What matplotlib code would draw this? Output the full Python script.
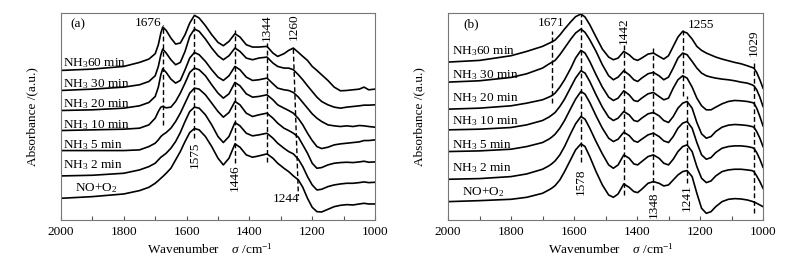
import matplotlib.pyplot as plt

plt.rcParams['font.family'] = 'Liberation Serif'
plt.rcParams['mathtext.fontset'] = 'custom'
plt.rcParams['mathtext.rm'] = 'Liberation Serif'
plt.rcParams['mathtext.it'] = 'Liberation Serif:italic'
plt.rcParams['font.size'] = 9.5

# ---------------- panel (a) : wavenumber grid and stacked spectra (a.u.) ----------------
wn_a = [2000, 1900, 1800, 1750, 1720, 1700, 1690, 1682, 1676, 1665,
        1650, 1635, 1620, 1605, 1590, 1575, 1560, 1540, 1520, 1500,
        1483, 1465, 1446, 1430, 1410, 1390, 1370, 1344, 1325, 1310,
        1290, 1275, 1260, 1244, 1230, 1215, 1200, 1185, 1170, 1150,
        1130, 1110, 1090, 1070, 1050, 1035, 1020, 1000]

a_nh3_60 = [448, 452, 460, 472, 482, 498, 525, 560, 578, 568,
            545, 527, 530, 555, 590, 613, 605, 582, 555, 532,
            522, 535, 558, 548, 525, 518, 518, 520, 500, 490,
            498, 508, 515, 502, 490, 478, 460, 448, 435, 418,
            398, 387, 388, 390, 392, 398, 390, 392]
a_nh3_30 = [388, 392, 398, 405, 415, 432, 460, 495, 512, 500,
            480, 465, 472, 505, 550, 572, 565, 542, 515, 492,
            480, 492, 515, 505, 485, 480, 485, 488, 470, 460,
            455, 455, 450, 435, 420, 402, 385, 368, 355, 345,
            338, 335, 338, 340, 342, 344, 344, 345]
a_nh3_20 = [328, 330, 335, 342, 352, 370, 398, 435, 453, 442,
            422, 410, 418, 450, 485, 502, 495, 475, 450, 428,
            418, 432, 460, 450, 428, 418, 420, 425, 408, 395,
            390, 388, 382, 368, 352, 335, 318, 305, 295, 285,
            282, 280, 282, 280, 283, 282, 280, 278]
a_nh3_10 = [268, 270, 272, 275, 285, 305, 325, 338, 340, 336,
            338, 355, 380, 410, 442, 455, 450, 432, 405, 380,
            365, 378, 412, 402, 378, 368, 370, 375, 360, 345,
            335, 328, 320, 304, 285, 260, 238, 220, 214, 218,
            225, 228, 230, 232, 234, 238, 238, 240]
a_nh3_5 = [208, 208, 208, 210, 220, 230, 240, 250, 255, 262,
           275, 295, 320, 350, 380, 395, 392, 375, 350, 325,
           308, 322, 355, 345, 320, 310, 315, 320, 305, 290,
           275, 268, 260, 248, 225, 200, 170, 155, 157, 165,
           170, 172, 173, 172, 174, 176, 173, 174]
a_nh3_2 = [132, 134, 140, 150, 160, 170, 180, 188, 192, 200,
           215, 235, 262, 295, 325, 338, 335, 315, 285, 250,
           232, 250, 292, 282, 260, 252, 255, 260, 245, 230,
           215, 205, 198, 182, 160, 130, 105, 90, 92, 100,
           105, 108, 110, 110, 112, 114, 112, 113]
a_no_o2 = [65, 70, 78, 88, 98, 110, 118, 125, 130, 140,
           155, 180, 205, 235, 262, 274, 270, 250, 220, 185,
           165, 185, 228, 218, 195, 188, 192, 198, 185, 170,
           155, 145, 132, 120, 98, 65, 38, 25, 24, 32,
           40, 44, 46, 45, 48, 50, 48, 48]

# ---------------- panel (b) ----------------
wn_b = [2000, 1900, 1800, 1750, 1700, 1680, 1671, 1660, 1645, 1630,
        1610, 1595, 1578, 1565, 1550, 1530, 1510, 1490, 1475, 1460,
        1442, 1425, 1410, 1398, 1385, 1365, 1348, 1330, 1315, 1300,
        1285, 1270, 1255, 1241, 1225, 1210, 1195, 1180, 1165, 1150,
        1130, 1110, 1090, 1070, 1050, 1035, 1029, 1020, 1010, 1000]

b_nh3_60 = [473, 478, 492, 505, 520, 529, 533, 539, 554, 572,
            594, 609, 617, 608, 585, 548, 512, 488, 480, 485,
            505, 495, 482, 478, 485, 497, 500, 490, 482, 492,
            520, 548, 565, 560, 542, 520, 508, 500, 494, 488,
            482, 477, 472, 468, 462, 457, 455, 442, 420, 395]
b_nh3_30 = [413, 417, 427, 438, 455, 467, 472, 478, 495, 515,
            542, 560, 572, 562, 540, 505, 465, 432, 420, 428,
            447, 435, 420, 415, 425, 438, 442, 432, 420, 428,
            455, 485, 500, 495, 475, 455, 440, 432, 428, 425,
            422, 420, 417, 413, 410, 405, 402, 390, 368, 340]
b_nh3_20 = [332, 335, 342, 350, 360, 368, 372, 380, 398, 420,
            455, 485, 508, 500, 475, 435, 398, 368, 358, 365,
            387, 375, 358, 355, 365, 378, 382, 370, 360, 365,
            395, 420, 432, 425, 398, 365, 342, 330, 330, 338,
            348, 355, 358, 357, 355, 352, 350, 335, 310, 282]
b_nh3_10 = [270, 272, 277, 285, 298, 308, 314, 322, 340, 362,
            398, 425, 447, 440, 415, 375, 338, 308, 298, 305,
            325, 315, 298, 295, 305, 318, 322, 312, 298, 292,
            310, 335, 350, 355, 335, 292, 258, 245, 250, 265,
            278, 284, 286, 285, 283, 280, 278, 265, 245, 220]
b_nh3_5 = [205, 207, 212, 220, 232, 242, 248, 257, 275, 298,
           335, 362, 385, 377, 352, 312, 275, 245, 235, 242,
           263, 253, 237, 233, 242, 255, 260, 250, 237, 232,
           250, 275, 290, 295, 275, 232, 195, 182, 187, 202,
           215, 220, 222, 222, 220, 217, 215, 202, 182, 158]
b_nh3_2 = [122, 124, 130, 138, 152, 162, 168, 177, 195, 220,
           260, 288, 310, 302, 275, 235, 198, 165, 155, 165,
           195, 185, 168, 165, 175, 190, 195, 185, 170, 165,
           182, 205, 220, 225, 205, 160, 125, 112, 117, 132,
           145, 150, 152, 152, 150, 148, 145, 132, 115, 95]
b_no_o2 = [55, 58, 62, 68, 80, 90, 95, 103, 120, 145,
           182, 210, 228, 220, 190, 145, 105, 75, 68, 78,
           108, 98, 85, 82, 92, 110, 115, 110, 102, 105,
           120, 135, 145, 148, 130, 80, 35, 20, 25, 40,
           55, 62, 64, 63, 60, 56, 54, 50, 45, 40]

labels = [r'NH$_3$60 min', r'NH$_3$ 30 min', r'NH$_3$ 20 min', r'NH$_3$ 10 min',
          r'NH$_3$ 5 min', r'NH$_3$ 2 min', r'NO+O$_2$']

# peak positions marked in each panel
peaks_a = [1676, 1575, 1446, 1344, 1260, 1244]
peaks_b = [1671, 1578, 1442, 1348, 1255, 1241, 1029]

fig = plt.figure(figsize=(7.96, 2.59), dpi=100)
ax1 = fig.add_axes([61 / 796, 39 / 259, 314 / 796, 207 / 259])
ax2 = fig.add_axes([448 / 796, 39 / 259, 315 / 796, 207 / 259])

dash = dict(color='k', lw=1.0, ls=(0, (3.5, 2)))
fs = 9.5


def style(ax, xlab_x):
    ax.set_xlim(2000, 1000)
    ax.set_ylim(0, 620)
    ax.set_xticks([2000, 1800, 1600, 1400, 1200, 1000])
    ax.set_xticks(range(1100, 2000, 200), minor=True)
    ax.tick_params(axis='x', which='both', direction='in', length=3, width=0.8,
                   color='#555555', pad=4, labelsize=fs)
    ax.set_yticks([])
    for s in ax.spines.values():
        s.set_color('#777777')
        s.set_linewidth(0.8)
    ax.set_ylabel('Absorbance /(a.u.)', fontsize=fs)
    ax.yaxis.set_label_coords(-0.072, 0.5)
    ax.set_xlabel(r'Wavenumber    $\sigma$ /cm$^{-1}$', fontsize=fs)
    ax.xaxis.set_label_coords(xlab_x, -0.105)


# ---- panel (a)
for y in [a_nh3_60, a_nh3_30, a_nh3_20, a_nh3_10, a_nh3_5, a_nh3_2, a_no_o2]:
    ax1.plot(wn_a, y, color='k', lw=1.2)
label_h_a = [470, 408, 347, 285, 225, 165, 95]
for i in range(7):
    x0 = 1955 if i == 6 else 1993
    ax1.text(x0, label_h_a[i], labels[i], ha='left', va='center', fontsize=fs)
ax1.text(1971, 585, '(a)', ha='left', va='center', fontsize=fs)

ax1.plot([peaks_a[0], peaks_a[0]], [285, 585], **dash)
ax1.text(1679, 590, str(peaks_a[0]), ha='right', va='center', fontsize=fs)
ax1.plot([peaks_a[1], peaks_a[1]], [245, 610], **dash)
ax1.text(peaks_a[1], 195, str(peaks_a[1]), rotation=90, ha='center', va='center', fontsize=fs)
ax1.plot([peaks_a[2], peaks_a[2]], [170, 570], **dash)
ax1.text(peaks_a[2], 128, str(peaks_a[2]), rotation=90, ha='center', va='center', fontsize=fs)
ax1.plot([peaks_a[3], peaks_a[3]], [175, 530], **dash)
ax1.text(peaks_a[3], 575, str(peaks_a[3]), rotation=90, ha='center', va='center', fontsize=fs)
ax1.plot([peaks_a[4], peaks_a[5]], [512, 72], **dash)
ax1.text(peaks_a[4], 578, str(peaks_a[4]), rotation=90, ha='center', va='center', fontsize=fs)
ax1.text(1240, 62, str(peaks_a[5]), ha='right', va='center', fontsize=fs)
style(ax1, 0.475)

# ---- panel (b)
for y in [b_nh3_60, b_nh3_30, b_nh3_20, b_nh3_10, b_nh3_5, b_nh3_2, b_no_o2]:
    ax2.plot(wn_b, y, color='k', lw=1.2)
label_h_b = [505, 435, 365, 295, 225, 155, 85]
for i in range(7):
    x0 = 1956 if i == 6 else 1988
    ax2.text(x0, label_h_b[i], labels[i], ha='left', va='center', fontsize=fs)
ax2.text(1950, 585, '(b)', ha='left', va='center', fontsize=fs)

ax2.plot([peaks_b[0], peaks_b[0]], [350, 565], **dash)
ax2.text(peaks_b[0], 590, str(peaks_b[0]), ha='center', va='center', fontsize=fs)
ax2.plot([peaks_b[1], peaks_b[1]], [175, 618], **dash)
ax2.text(peaks_b[1], 115, str(peaks_b[1]), rotation=90, ha='center', va='center', fontsize=fs)
ax2.plot([peaks_b[2], peaks_b[2]], [75, 525], **dash)
ax2.text(peaks_b[2], 568, str(peaks_b[2]), rotation=90, ha='center', va='center', fontsize=fs)
ax2.plot([peaks_b[3], peaks_b[3]], [90, 515], **dash)
ax2.text(peaks_b[3], 45, str(peaks_b[3]), rotation=90, ha='center', va='center', fontsize=fs)
ax2.plot([peaks_b[4], peaks_b[4]], [370, 575], **dash)
ax2.text(1238, 585, str(peaks_b[4]), ha='left', va='center', fontsize=fs)
ax2.plot([peaks_b[5], peaks_b[5]], [110, 370], **dash)
ax2.text(peaks_b[5], 68, str(peaks_b[5]), rotation=90, ha='center', va='center', fontsize=fs)
ax2.plot([peaks_b[6], peaks_b[6]], [20, 480], **dash)
ax2.text(peaks_b[6], 532, str(peaks_b[6]), rotation=90, ha='center', va='center', fontsize=fs)
style(ax2, 0.518)

plt.savefig('out.png', dpi=100)
